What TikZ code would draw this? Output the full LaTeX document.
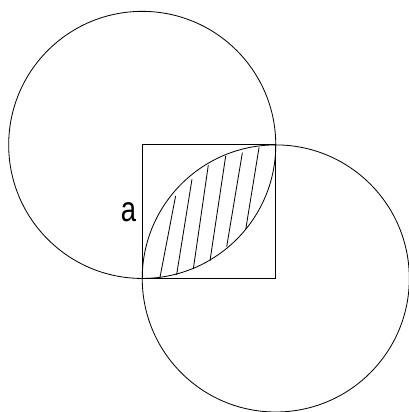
\documentclass[tikz,border=0pt]{standalone}
\usepackage{fontspec}
\setmainfont{Liberation Sans}
\begin{document}
\begin{tikzpicture}[x=1cm,y=1cm,line width=0.7pt]
\useasboundingbox (-4.26,-4.0) rectangle (7.99,8.34);
% square and the two circles
\draw (0,0) rectangle (4,4);
\draw (0,4) circle (4);
\draw (4,0) circle (4);
\node[font=\fontsize{30}{32}\selectfont,inner sep=0pt] (side_a) at (-0.41,1.97) {\scalebox{0.78}[1]{a}};
% hatching of the lens
\foreach \xa/\ya/\xb/\yb in {0.53/0.02/1.00/2.47,1.03/0.11/1.49/2.97,1.53/0.28/1.98/3.40,2.03/0.53/2.50/3.67,2.53/0.95/3.00/3.77,3.10/1.47/3.50/3.93} {\draw (\xa,\ya) -- (\xb,\yb);}
\end{tikzpicture}
\end{document}
